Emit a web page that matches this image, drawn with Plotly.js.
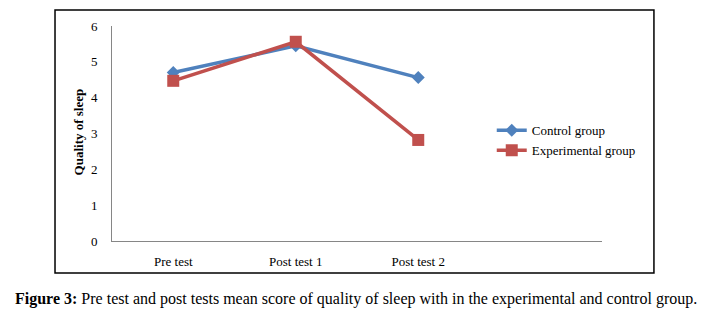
<!DOCTYPE html>
<html><head><meta charset="utf-8">
<script src="https://cdn.plot.ly/plotly-3.0.1.min.js"></script>
<style>html,body{margin:0;padding:0;background:#fff;}#c{width:707px;height:316px;}</style>
</head><body><div id="c"></div>
<script>
const categories = ["Pre test", "Post test 1", "Post test 2", " "];
const controlGroup = [4.70, 5.45, 4.56];
const experimentalGroup = [4.47, 5.56, 2.82];
const yTicks = [0, 1, 2, 3, 4, 5, 6];
const yTitle = "Quality of sleep";
const captionBold = "Figure 3:";
const captionText = " Pre test and post tests mean score of quality of sleep with in the experimental and control group.";

const serif = "Liberation Serif";
const traces = [
  {x: categories.slice(0, controlGroup.length), y: controlGroup, name: "Control group", type: "scatter", mode: "lines+markers",
   line: {color: "#4F81BD", width: 3.5}, marker: {symbol: "diamond", size: 10, color: "#4F81BD"}},
  {x: categories.slice(0, experimentalGroup.length), y: experimentalGroup, name: "Experimental group", type: "scatter", mode: "lines+markers",
   line: {color: "#C0504D", width: 3.5}, marker: {symbol: "square", size: 12, color: "#C0504D"}}
];
const layout = {
  width: 707, height: 316,
  margin: {l: 112, r: 105, t: 26, b: 75},
  paper_bgcolor: "#fff", plot_bgcolor: "#fff",
  font: {family: serif, size: 13, color: "#000"},
  showlegend: true,
  legend: {x: 0.775, y: 0.468, xanchor: "left", yanchor: "middle", font: {family: serif, size: 13, color: "#000"},
           bgcolor: "rgba(0,0,0,0)", tracegroupgap: 4},
  xaxis: {type: "category", categoryarray: categories, categoryorder: "array", range: [-0.5, 3.5],
          showline: true, linecolor: "#868686", linewidth: 1, showgrid: false, zeroline: false,
          ticks: "outside", ticklen: 8, tickcolor: "rgba(0,0,0,0)", fixedrange: true},
  yaxis: {range: [0, 6], tickvals: yTicks, showline: true, linecolor: "#868686", linewidth: 1,
          showgrid: false, zeroline: false, ticks: "outside", ticklen: 11, tickcolor: "rgba(0,0,0,0)"},
  shapes: [{type: "rect", xref: "paper", yref: "paper", x0: -0.1163, x1: 1.106, y0: -0.1488, y1: 1.0744,
            line: {color: "#000", width: 1.5}, fillcolor: "rgba(0,0,0,0)"}],
  annotations: [
    {xref: "paper", yref: "paper", x: -0.0665, y: 0.507, xanchor: "center", yanchor: "middle", showarrow: false,
     textangle: -90, text: "<b>" + yTitle + "</b>", font: {family: serif, size: 13, color: "#000"}},
    {xref: "paper", yref: "paper", x: 0.498, y: -0.27, xanchor: "center", yanchor: "middle", showarrow: false,
     text: "<b>" + captionBold + "</b>" + captionText, font: {family: serif, size: 16, color: "#000"}}]
};
Plotly.newPlot("c", traces, layout, {displayModeBar: false, staticPlot: true});
</script></body></html>
